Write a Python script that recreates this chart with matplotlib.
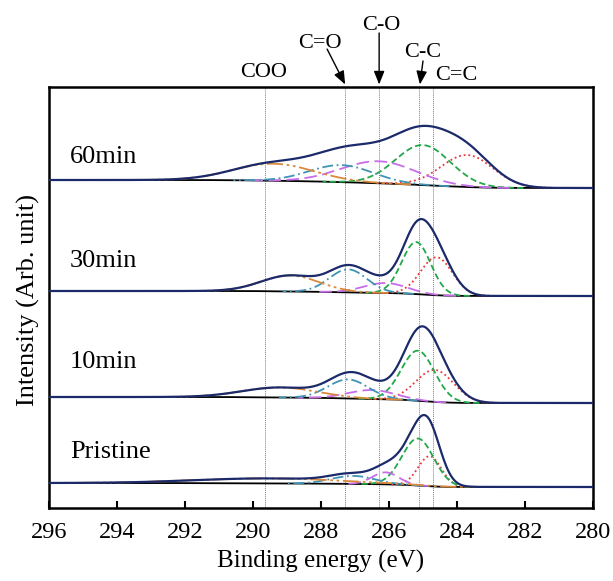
import numpy as np
import matplotlib
matplotlib.use("Agg")
import matplotlib.pyplot as plt

plt.rcParams["font.family"] = ["Liberation Serif", "DejaVu Serif"]

# panels from bottom to top
panels = ["Pristine", "10min", "30min", "60min"]
# Shirley background level at the 296 eV end and at the 280 eV end (arb. unit)
bg_high = [25, 111, 217, 328]
bg_low = [21, 105, 212, 320]
label_y = [50, 140, 241, 345]

# fitted components, same order in every table below
components = ["C=C", "C-C", "C-O", "C=O", "COO"]
pristine_pos = [284.8, 285.15, 286.1, 287.05, 289.5]
pristine_hgt = [30, 47, 12, 8, 5]
pristine_fwhm = [0.8, 1.1, 0.9, 1.5, 5.0]

min10_pos = [284.65, 285.15, 286.5, 287.2, 289.2]
min10_hgt = [32, 50, 9, 19, 10]
min10_fwhm = [1.3, 1.15, 1.6, 1.4, 2.6]

min30_pos = [284.6, 285.2, 286.1, 287.2, 288.9]
min30_hgt = [38, 52, 10, 23, 16]
min30_fwhm = [1.1, 1.0, 1.5, 1.3, 2.0]

min60_pos = [283.7, 285.0, 286.3, 287.4, 289.4]
min60_hgt = [32, 40, 22, 17, 17]
min60_fwhm = [1.8, 1.9, 2.6, 2.2, 2.8]

peak_pos = [pristine_pos, min10_pos, min30_pos, min60_pos]
peak_hgt = [pristine_hgt, min10_hgt, min30_hgt, min60_hgt]
peak_fwhm = [pristine_fwhm, min10_fwhm, min30_fwhm, min60_fwhm]

# reference binding energies (dotted guide lines)
ref_be = [289.65, 287.3, 286.3, 285.12, 284.7]

comp_style = {
    "C=C": dict(color="#e8383d", dashes=(1, 1.6)),
    "C-C": dict(color="#22a84a", dashes=(3.5, 1.8)),
    "C-O": dict(color="#c86dea", dashes=(7, 3)),
    "C=O": dict(color="#3f94b5", dashes=(6, 2, 1, 2)),
    "COO": dict(color="#d9893a", dashes=(9, 2, 1.5, 2, 1.5, 2)),
}

E = np.linspace(280, 296, 1601)


def gauss(x, c, h, fwhm):
    s = fwhm / 2.3548
    return h * np.exp(-0.5 * ((x - c) / s) ** 2)


fig = plt.figure(figsize=(6.13, 5.81), dpi=100)
ax = fig.add_axes([49 / 613, 1 - 508 / 581, 544 / 613, 421 / 581])

for x in ref_be:
    ax.axvline(x, color="#808080", lw=0.7, ls=(0, (1, 1)), zorder=1)

for i, name in enumerate(panels):
    peaks = [gauss(E, c, h, w) for c, h, w in zip(peak_pos[i], peak_hgt[i], peak_fwhm[i])]
    total = np.sum(peaks, axis=0)
    # Shirley-type step: background rises with the peak area on the low-BE side
    area = np.cumsum(total)
    bg = bg_low[i] + (bg_high[i] - bg_low[i]) * area / area[-1]
    ax.plot(E, bg, color="black", lw=1.3, zorder=2)
    for comp, p in zip(components, peaks):
        mask = p > 0.05
        st = comp_style[comp]
        ax.plot(E[mask], bg[mask] + p[mask], color=st["color"], dashes=st["dashes"],
                lw=1.3, zorder=3)
    ax.plot(E, bg + total, color="#1b2a6b", lw=1.6, zorder=4)
    ax.text(295.38, label_y[i], name, fontsize=19, ha="left", va="baseline")

ax.set_xlim(296, 280)
ax.set_ylim(0, 421)
ax.set_xticks(np.arange(296, 279, -2))
ax.set_yticks([])
ax.tick_params(axis="x", direction="in", length=5, width=1.5, labelsize=17.5, pad=10)
for sp in ax.spines.values():
    sp.set_linewidth(1.8)
ax.set_xlabel("Binding energy (eV)", fontsize=18, labelpad=5)
fig.text(28 / 613, 1 - 300 / 581, "Intensity (Arb. unit)", rotation=90,
         fontsize=19, ha="center", va="center")

# peak assignments above the frame
tr = ax.get_xaxis_transform()
labels = ["COO", "C=O", "C-O", "C-C", "C=C"]
label_x = [289.68, 288.03, 286.24, 285.0, 284.03]
label_base = [1.0238, 1.0926, 1.1354, 1.0713, 1.0166]
for t, x, y in zip(labels, label_x, label_base):
    ax.text(x, y, t, transform=tr, fontsize=16, ha="center", va="baseline")

arrow_tail = [(287.82, 1.090), (286.29, 1.1283), (285.0, 1.0618)]
arrow_head = [(287.29, 1.006), (286.29, 1.006), (285.09, 1.006)]
for tail, head in zip(arrow_tail, arrow_head):
    ax.annotate("", xy=head, xytext=tail, xycoords=tr, textcoords=tr,
                annotation_clip=False,
                arrowprops=dict(arrowstyle="-|>,head_length=0.8,head_width=0.32",
                                color="black", lw=1.0,
                                mutation_scale=10, shrinkA=0, shrinkB=0))

fig.savefig("out.png", dpi=100)
